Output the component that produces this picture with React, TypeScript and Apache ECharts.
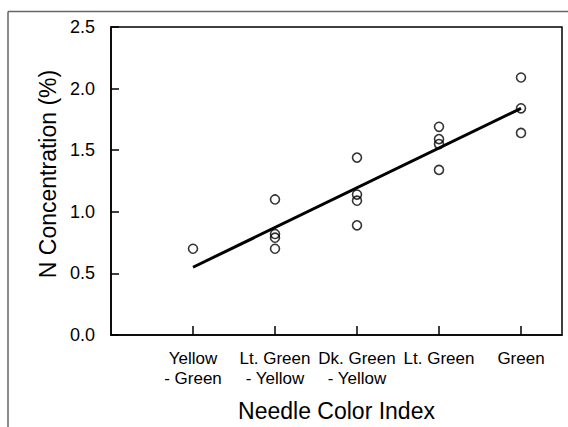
import React, { useEffect, useRef } from "react";
import * as echarts from "echarts";

const categories = ["Yellow\n- Green", "Lt. Green\n- Yellow", "Dk. Green\n- Yellow", "Lt. Green", "Green"];
const categoryPositions = [1, 2, 3, 4, 5];
const yellowGreen = [0.7];
const ltGreenYellow = [1.1, 0.82, 0.79, 0.7];
const dkGreenYellow = [1.44, 1.14, 1.09, 0.89];
const ltGreen = [1.69, 1.59, 1.55, 1.34];
const green = [2.09, 1.84, 1.64];
const fitX = [1, 5];
const fitY = [0.55, 1.84];

const FONT = "'Liberation Sans', Arial, Helvetica, sans-serif";

export default function App() {
  const ref = useRef<HTMLDivElement>(null);
  useEffect(() => {
    if (!ref.current) return;
    const chart = echarts.init(ref.current, null, { renderer: "svg" });
    const groups = [yellowGreen, ltGreenYellow, dkGreenYellow, ltGreen, green];
    const points = groups.flatMap((g, i) => g.map((v) => [categoryPositions[i], v]));
    const fit = fitX.map((x, i) => [x, fitY[i]]);
    chart.setOption({
      animation: false,
      backgroundColor: "#fff",
      textStyle: { fontFamily: FONT },
      grid: {
        left: 111,
        top: 27,
        width: 451,
        height: 309,
        show: true,
        borderColor: "#000",
        borderWidth: 1.5,
        containLabel: false,
      },
      xAxis: {
        type: "value",
        min: 0,
        max: 5.5,
        interval: 1,
        name: "Needle Color Index",
        nameLocation: "middle",
        nameGap: 64,
        nameTextStyle: { fontSize: 23, color: "#000", fontFamily: FONT },
        axisLine: { show: true, lineStyle: { color: "#000", width: 1.5 } },
        axisTick: {
          show: true,
          inside: true,
          length: 9,
          customValues: categoryPositions,
          lineStyle: { color: "#000", width: 1.5 },
        },
        axisLabel: {
          customValues: categoryPositions,
          margin: 13,
          fontSize: 17,
          lineHeight: 20,
          color: "#000",
          fontFamily: FONT,
          formatter: (v: number) => categories[Math.round(v) - 1] ?? "",
        },
        splitLine: { show: false },
      },
      yAxis: {
        type: "value",
        min: 0,
        max: 2.5,
        interval: 0.5,
        name: "N Concentration (%)",
        nameLocation: "middle",
        nameGap: 52,
        nameTextStyle: { fontSize: 23, color: "#000", fontFamily: FONT, padding: [0, 0, 0, 14] },
        axisLine: { show: true, lineStyle: { color: "#000", width: 1.5 } },
        axisTick: { show: true, inside: true, length: 8, lineStyle: { color: "#000", width: 1.5 } },
        axisLabel: {
          margin: 16,
          fontSize: 18,
          color: "#000",
          fontFamily: FONT,
          formatter: (v: number) => v.toFixed(1),
        },
        splitLine: { show: false },
      },
      graphic: [
        {
          type: "line",
          shape: { x1: 8, y1: 11.5, x2: 568, y2: 11.5 },
          style: { stroke: "#666", lineWidth: 1.5 },
          silent: true,
        },
        {
          type: "line",
          shape: { x1: 8, y1: 11.5, x2: 8, y2: 427 },
          style: { stroke: "#666", lineWidth: 1.5 },
          silent: true,
        },
      ],
      series: [
        {
          type: "line",
          data: fit,
          symbol: "none",
          lineStyle: { color: "#000", width: 3 },
          z: 2,
        },
        {
          type: "scatter",
          data: points,
          symbol: "circle",
          symbolSize: 9,
          itemStyle: { color: "transparent", borderColor: "#000", borderWidth: 1.6 },
          z: 3,
        },
      ],
    });
    return () => chart.dispose();
  }, []);
  return (
    <div
      ref={ref}
      style={{ position: "fixed", left: 0, top: 0, width: 568, height: 427 }}
    />
  );
}
